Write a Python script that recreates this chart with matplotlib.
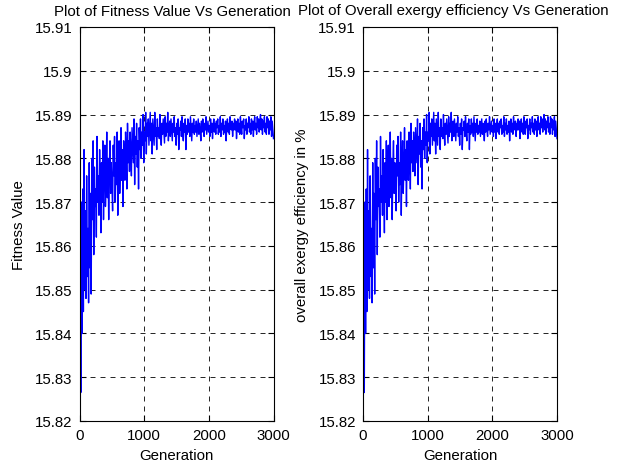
import numpy as np
import matplotlib.pyplot as plt

plt.rcParams['font.family'] = ['Liberation Sans', 'DejaVu Sans']

fitness = [
    15.834, 15.862, 15.8265, 15.870, 15.840, 15.873, 15.845, 15.882, 15.850, 15.868,
    15.848, 15.876, 15.853, 15.864, 15.847, 15.879, 15.855, 15.872, 15.849, 15.880,
    15.866, 15.884, 15.858, 15.878, 15.869, 15.873, 15.862, 15.885, 15.870, 15.876,
    15.867, 15.882, 15.874, 15.863, 15.879, 15.870, 15.884, 15.866, 15.877, 15.883,
    15.869, 15.875, 15.886, 15.871, 15.880, 15.866, 15.878, 15.884, 15.872, 15.879,
    15.874, 15.868, 15.883, 15.876, 15.885, 15.870, 15.879, 15.874, 15.886, 15.867,
    15.880, 15.884, 15.872, 15.878, 15.887, 15.875, 15.882, 15.869, 15.884, 15.879,
    15.875, 15.886, 15.881, 15.873, 15.888, 15.879, 15.884, 15.877, 15.886, 15.882,
    15.876, 15.887, 15.883, 15.879, 15.889, 15.874, 15.885, 15.881, 15.888, 15.878,
    15.884, 15.873, 15.887, 15.882, 15.889, 15.880, 15.886, 15.883, 15.890, 15.879,
    15.886, 15.884, 15.8905, 15.881, 15.888, 15.885, 15.889, 15.883, 15.887, 15.8905,
    15.884, 15.888, 15.881, 15.889, 15.886, 15.883, 15.8905, 15.885, 15.887, 15.882,
    15.889, 15.885, 15.887, 15.8845, 15.890, 15.886, 15.883, 15.888, 15.8855, 15.889,
    15.886, 15.8835, 15.8895, 15.885, 15.888, 15.886, 15.8905, 15.884, 15.887, 15.8885,
    15.885, 15.889, 15.8865, 15.884, 15.888, 15.886, 15.8895, 15.885, 15.887, 15.883,
    15.888, 15.8855, 15.889, 15.882, 15.887, 15.8865, 15.8885, 15.885, 15.8895, 15.886,
    15.884, 15.888, 15.886, 15.889, 15.882, 15.8875, 15.8855, 15.889, 15.886, 15.888,
    15.885, 15.8895, 15.8865, 15.884, 15.888, 15.886, 15.889, 15.8855, 15.8875, 15.886,
    15.8885, 15.885, 15.887, 15.889, 15.8855, 15.888, 15.8865, 15.884, 15.8885, 15.886,
    15.889, 15.8865, 15.885, 15.888, 15.8865, 15.8895, 15.8855, 15.887, 15.8885, 15.886,
    15.8875, 15.885, 15.889, 15.886, 15.888, 15.8845, 15.8875, 15.889, 15.886, 15.888,
    15.8855, 15.8885, 15.887, 15.889, 15.8855, 15.8875, 15.886, 15.8895, 15.885, 15.888,
    15.8865, 15.889, 15.8855, 15.8875, 15.886, 15.8885, 15.884, 15.8875, 15.889, 15.886,
    15.888, 15.8855, 15.8895, 15.887, 15.8865, 15.8885, 15.885, 15.888, 15.8865, 15.889,
    15.8865, 15.8885, 15.8845, 15.8875, 15.889, 15.886, 15.888, 15.8855, 15.8895, 15.887,
    15.8855, 15.8885, 15.887, 15.889, 15.8845, 15.8875, 15.8865, 15.889, 15.8855, 15.888,
    15.887, 15.8895, 15.886, 15.888, 15.8855, 15.889, 15.8865, 15.8885, 15.885, 15.888,
    15.8895, 15.8865, 15.888, 15.8855, 15.8895, 15.887, 15.889, 15.886, 15.8885, 15.890,
    15.8865, 15.889, 15.8855, 15.8885, 15.887, 15.8895, 15.886, 15.888, 15.8855, 15.8895,
    15.887, 15.889, 15.8855, 15.8885, 15.8865, 15.8895, 15.885, 15.8885, 15.8865, 15.8845,
]
generation = np.linspace(0, 3000, len(fitness))

titles = ['Plot of Fitness Value Vs Generation',
          'Plot of Overall exergy efficiency Vs Generation']
ylabels = ['Fitness Value', 'overall exergy efficiency in %']
yticks = [15.82, 15.83, 15.84, 15.85, 15.86, 15.87, 15.88, 15.89, 15.9, 15.91]
ytick_labels = ['15.82', '15.83', '15.84', '15.85', '15.86', '15.87',
                '15.88', '15.89', '15.9', '15.91']
xticks = [0, 1000, 2000, 3000]

W, H = 623, 464
fig = plt.figure(figsize=(W / 100, H / 100), dpi=100)
lefts = [79.5, 363]
title_x = [0.477, 0.464]
fs = 10.8
for left, tx, title, ylab in zip(lefts, title_x, titles, ylabels):
    ax = fig.add_axes([left / W, (H - 422) / H, 194 / W, 394 / H])
    ax.plot(generation, fitness, color='#0000ff', linewidth=1.0)
    ax.set_xlim(0, 3000)
    ax.set_ylim(15.82, 15.91)
    ax.set_xticks(xticks)
    ax.set_yticks(yticks)
    ax.set_yticklabels(ytick_labels)
    ax.grid(True, color='black', linestyle=(0, (6, 6)), linewidth=0.6)
    ax.tick_params(direction='in', top=True, right=True, labelsize=fs,
                   length=4, pad=5)
    ax.set_title(title, fontsize=fs, x=tx, pad=9)
    ax.set_xlabel('Generation', fontsize=fs)
    ax.set_ylabel(ylab, fontsize=fs)
    ax.xaxis.set_label_coords(0.5, -0.068)
    ax.yaxis.set_label_coords(-0.277, 0.5)
    for s in ax.spines.values():
        s.set_linewidth(0.8)

fig.savefig('out.png', dpi=100)
